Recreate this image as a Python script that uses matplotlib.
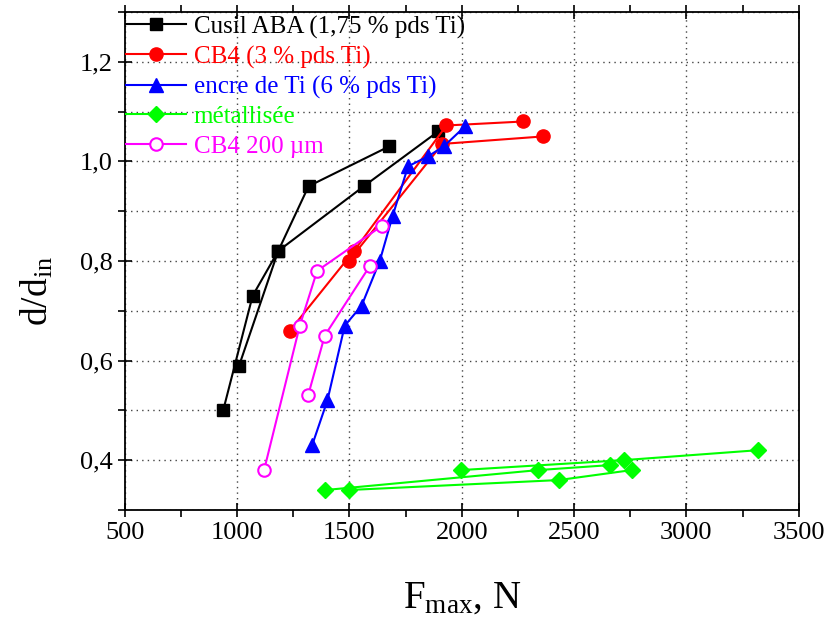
import numpy as np
import matplotlib
matplotlib.use("Agg")
import matplotlib.pyplot as plt
from matplotlib.ticker import MultipleLocator, FuncFormatter

plt.rcParams['font.family'] = ['Liberation Serif', 'DejaVu Serif']
plt.rcParams['mathtext.fontset'] = 'custom'
plt.rcParams['mathtext.rm'] = 'Liberation Serif'
plt.rcParams['mathtext.it'] = 'Liberation Serif:italic'

# Données (NaN = séparation entre éprouvettes)
nan = np.nan
cusil_F = [938, 1069, 1183, 1318, 1677, nan, 1009, 1183, 1564, 1895]
cusil_d = [0.50, 0.73, 0.82, 0.95, 1.03, nan, 0.59, 0.82, 0.95, 1.06]

cb4_F = [1235, 1520, 1932, 2273, nan, 1497, 1914, 2362]
cb4_d = [0.66, 0.82, 1.072, 1.08, nan, 0.80, 1.035, 1.05]

encre_F = [1334, 1402, 1479, 1554, 1635, 1692, 1761, 1850, 1920, 2014]
encre_d = [0.43, 0.52, 0.67, 0.71, 0.80, 0.89, 0.99, 1.01, 1.03, 1.07]

metal_F = [1393, 2340, 2659, nan, 1497, 2432, 2756, nan, 1995, 2721, 3320]
metal_d = [0.34, 0.38, 0.39, nan, 0.34, 0.36, 0.38, nan, 0.38, 0.40, 0.42]

cb4_200_F = [1120, 1279, 1356, 1643, nan, 1316, 1390, 1591]
cb4_200_d = [0.38, 0.67, 0.78, 0.87, nan, 0.53, 0.65, 0.79]

fig = plt.figure(figsize=(8.32, 6.28), dpi=100)
ax = fig.add_axes([0.150, 0.188, 0.810, 0.793])

lw = 1.5
ax.plot(cusil_F, cusil_d, '-s', color='black', ms=8.5, lw=lw,
        label='Cusil ABA (1,75 % pds Ti)')
ax.plot(cb4_F, cb4_d, '-o', color='#ff0000', ms=9.5, lw=lw,
        label='CB4 (3 % pds Ti)')
ax.plot(encre_F, encre_d, '-^', color='#0000ff', ms=10, lw=lw,
        label='encre de Ti (6 % pds Ti)')
ax.plot(metal_F, metal_d, '-D', color='#00ff00', ms=8, lw=lw,
        label='métallisée')
ax.plot(cb4_200_F, cb4_200_d, '-o', color='#ff00ff', ms=9, lw=lw,
        mfc='white', mew=1.5, label='CB4 200 µm')

ax.set_xlim(500, 3500)
ax.set_ylim(0.3, 1.3)
ax.xaxis.set_major_locator(MultipleLocator(500))
ax.xaxis.set_minor_locator(MultipleLocator(250))
ax.yaxis.set_major_locator(MultipleLocator(0.2))
ax.yaxis.set_minor_locator(MultipleLocator(0.1))
ax.yaxis.set_major_formatter(FuncFormatter(lambda v, p: ('%.1f' % v).replace('.', ',')))

ax.grid(True, which='major', axis='x', color='#444444', ls=(0, (1, 3)), lw=1)
ax.grid(True, which='both', axis='y', color='#444444', ls=(0, (1, 3)), lw=1)
ax.set_axisbelow(True)

ax.tick_params(which='major', direction='inout', length=10, width=1.2,
               labelsize=19, top=True, right=False)
ax.tick_params(which='minor', direction='out', length=5, width=1.2,
               top=True, right=False)
for s in ax.spines.values():
    s.set_linewidth(1.3)

ax.set_xlabel('F$_{\\mathrm{max}}$, N', fontsize=28, labelpad=26)
ax.set_ylabel('d/d$_{\\mathrm{in}}$', fontsize=27)
ax.yaxis.set_label_coords(-0.103, 0.44)

leg = ax.legend(loc='upper left', bbox_to_anchor=(-0.004, 1.0), frameon=False,
                fontsize=18, numpoints=1, borderaxespad=0.0, borderpad=0.14,
                handlelength=2.4, handletextpad=0.32, labelspacing=0.28,
                labelcolor='linecolor')

fig.savefig('out.png', dpi=100)
